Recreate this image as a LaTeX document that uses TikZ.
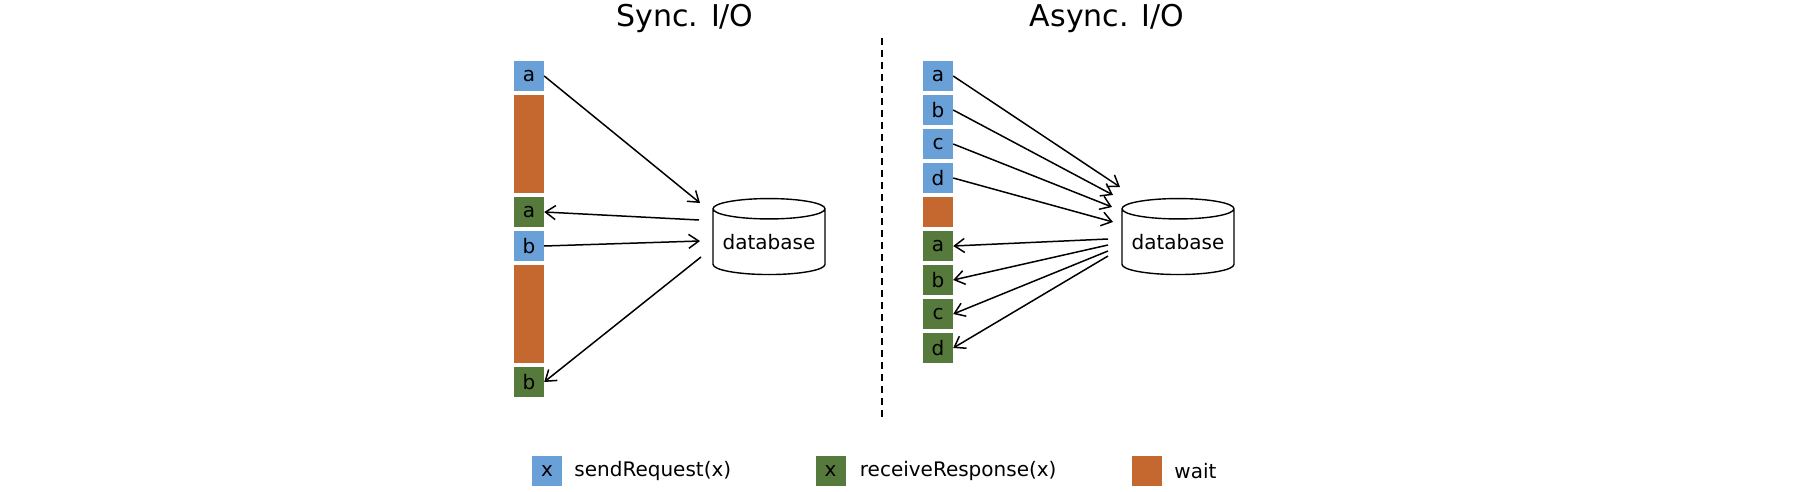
\documentclass[tikz,border=0pt]{standalone}
\usepackage{fontspec}
\setmainfont{DejaVu Sans}
\usetikzlibrary{arrows.meta, positioning, shapes.geometric}
\definecolor{sendBlue}{RGB}{106,160,216}
\definecolor{recvGreen}{RGB}{86,122,60}
\definecolor{waitOrange}{RGB}{196,104,48}

\begin{document}
\begin{tikzpicture}[x=1pt, y=-1pt,
        blk/.style={minimum width=30pt, minimum height=30pt, inner sep=0pt, font=\fontsize{20}{24}\selectfont},
        db/.style={cylinder, shape border rotate=90, draw, line width=1.4pt, aspect=0.22,
            minimum width=112pt, minimum height=76pt, inner sep=0pt, font=\fontsize{20}{24}\selectfont},
        msg/.style={line width=1.5pt, -{Straight Barb[length=10pt, width=14pt, line width=1.5pt]}},
        lbl/.style={inner sep=0pt, font=\fontsize{20}{24}\selectfont}]
        \useasboundingbox (0,0) rectangle (1810,492);

        % titles and divider
        \node[anchor=base, font=\fontsize{30}{36}\selectfont] (tSync) at (685,27) {Sync. I/O};
        \node[anchor=base, font=\fontsize{30}{36}\selectfont] (tAsync) at (1107,27) {Async. I/O};
        \draw[line width=2pt, dash pattern=on 7pt off 5pt] (882,38) -- (882,418);

        % sync column
        \foreach \n/\y/\c/\t in
        {sA/76/sendBlue/a,
         rA/212/recvGreen/a,
         sB/246/sendBlue/b,
         rB/382/recvGreen/b
        }
        {
            \node[blk, fill=\c] (L\n) at (529,\y) {\t};
        };
        \node[blk, fill=waitOrange, minimum height=98pt] (LwA) at (529,144) {};
        \node[blk, fill=waitOrange, minimum height=98pt] (LwB) at (529,314) {};
        \node[db] (dbL) at (769,242) {database};

        \coordinate (LqA) at (700,203);
        \coordinate (LpA) at (699,220);
        \coordinate (LqB) at (700,241);
        \coordinate (LpB) at (701,257);
        \draw[msg] (LsA.east) -- (LqA);
        \draw[msg] (LpA) -- (LrA.east);
        \draw[msg] (LsB.east) -- (LqB);
        \draw[msg] (LpB) -- (LrB.east);

        % async column
        \foreach \t [count=\i from 0] in {a,b,c,d}
        {
            \node[blk, fill=sendBlue] (Rs\t) at (938,{76+34*\i}) {\t};
            \node[blk, fill=recvGreen] (Rr\t) at (938,{246+34*\i}) {\t};
        };
        \node[blk, fill=waitOrange] (Rw) at (938,212) {};
        \node[db] (dbR) at (1178,242) {database};

        \foreach \t/\qx/\qy/\py in
        {a/1120/187/239,
         b/1113/195/245,
         c/1112/207/251,
         d/1113/222/256
        }
        {
            \coordinate (Rq\t) at (\qx,\qy);
            \coordinate (Rp\t) at (1108,\py);
            \draw[msg] (Rs\t.east) -- (Rq\t);
            \draw[msg] (Rp\t) -- (Rr\t.east);
        };

        % legend
        \node[blk, fill=sendBlue] (lgS) at (547,471) {x};
        \node[blk, fill=recvGreen] (lgR) at (830.5,471) {x};
        \node[blk, fill=waitOrange] (lgW) at (1147,471) {};
        \node[lbl, right=12pt of lgS] (lgSt) {sendRequest(x)};
        \node[lbl, right=14pt of lgR] (lgRt) {receiveResponse(x)};
        \node[lbl, right=12pt of lgW] (lgWt) {wait};
    \end{tikzpicture}
\end{document}
